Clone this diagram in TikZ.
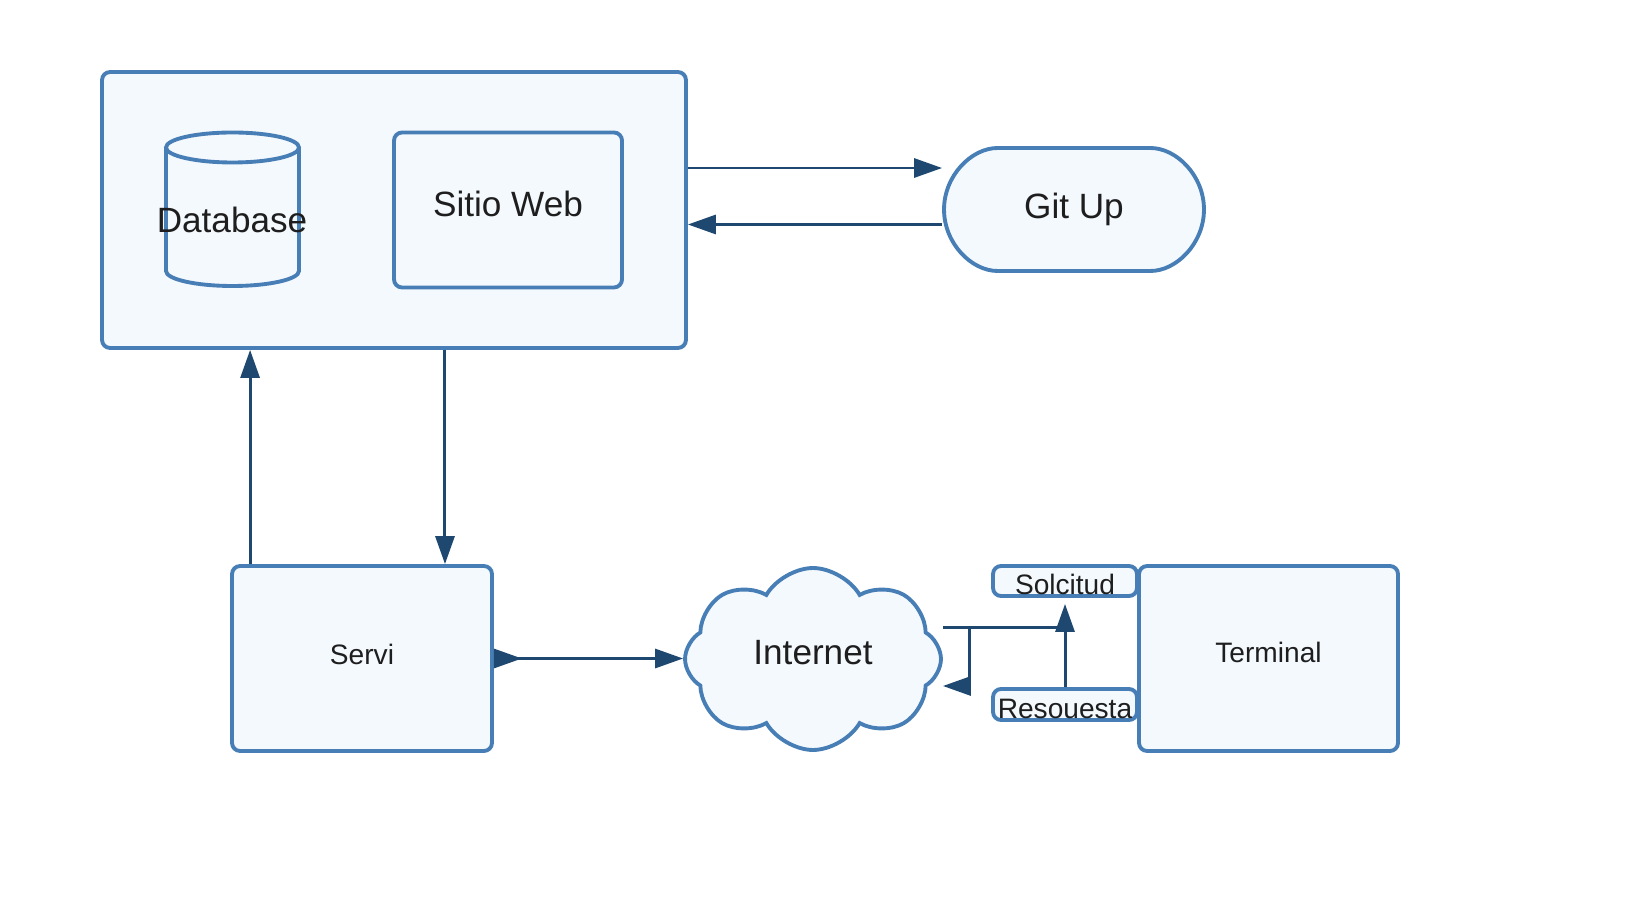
\documentclass[tikz,border=0pt]{standalone}
\usepackage{fontspec}
\setmainfont{Liberation Sans}
\usetikzlibrary{arrows.meta,shapes.misc,shapes.symbols}
\definecolor{bord}{RGB}{72,126,182}
\definecolor{boxfill}{RGB}{244,249,254}
\definecolor{arrcol}{RGB}{30,72,112}
\definecolor{txt}{RGB}{30,30,30}

\begin{document}
\begin{tikzpicture}[x=0.02cm, y=-0.02cm]
                \tikzstyle{box} = [draw=bord, fill=boxfill, line width=2.2pt, rounded corners=0.16cm, text=txt, inner sep=0pt]
                \tikzstyle{big} = [font=\fontsize{20}{24}\selectfont]
                \tikzstyle{small} = [font=\fontsize{16}{19}\selectfont]
                \tikzstyle{arr} = [-{Triangle[length=0.56cm,width=0.38cm]}, line width=1.7pt, draw=arrcol]
                \fill[white] (0,0) rectangle (1649,901);
                \useasboundingbox (0,0) rectangle (1649,901);
                % upper block
                \node[box, minimum width=11.68cm, minimum height=5.52cm] (host) at (394,210) {};
                \filldraw[draw=bord, fill=boxfill, line width=2.2pt] (166,147.5) -- (166,271)
                    arc[start angle=180, end angle=360, x radius=1.33cm, y radius=0.3cm] -- (299,147.5);
                \draw[draw=bord, line width=2.2pt] (232.5,147.5) ellipse [x radius=1.33cm, y radius=0.3cm];
                \node[big, text=txt] (db) at (232,220) {Database};
                \node[box, big, text depth=0.25cm, minimum width=4.56cm, minimum height=3.1cm] (web) at (508,210) {Sitio Web};
                \node[box, big, rounded rectangle, minimum width=5.2cm, minimum height=2.46cm] (gitup) at (1074,209.5) {Git Up};
                % lower row
                \node[box, small, text depth=0.17cm, minimum width=5.2cm, minimum height=3.7cm] (servi) at (362,658.5) {Servi};
                \node[box, big, text depth=0.25cm, cloud, cloud puffs=8, cloud puff arc=120, aspect=1.4, rounded corners=0pt,
                      minimum width=5.12cm, minimum height=3.64cm] (net) at (813,659) {Internet};
                \node[box, small, text depth=0.25cm, minimum width=5.18cm, minimum height=3.7cm] (term) at (1268.5,658.5) {Terminal};
                \node[box, small, text height=0.56cm, text depth=0pt, minimum width=2.88cm, minimum height=0.6cm] (solc) at (1065,581) {Solcitud};
                \node[box, small, text height=0.56cm, text depth=0pt, minimum width=2.88cm, minimum height=0.62cm] (resp) at (1065,704.5) {Resouesta};
                % connectors
                \coordinate (gA) at ([yshift=0.84cm]host.east);
                \coordinate (gB) at ([yshift=-0.3cm]gitup.west);
                \draw[arr] (gA) -- (gA -| gitup.west);
                \draw[arr] (gB) -- (gB -| host.east);
                \coordinate (upA) at ([xshift=0.4cm]servi.north west);
                \coordinate (dnA) at ([xshift=1.66cm]servi.north);
                \draw[arr] (upA) -- (upA |- host.south);
                \draw[arr] (dnA |- host.south) -- (dnA);
                \draw[arr, {Triangle[reversed,length=0.56cm,width=0.38cm]}-{Triangle[length=0.56cm,width=0.38cm]}] (servi.east) -- (servi.east -| net.west);
                \coordinate (nA) at ([yshift=0.64cm]net.east);
                \coordinate (nB) at ([yshift=-0.54cm]net.east);
                \coordinate (nJ) at (969,627);
                \draw[arr, shorten >=0.12cm] (nA) -| (solc.south);
                \draw[arr] (resp.north) |- (nJ) |- (nB);
            \end{tikzpicture}
\end{document}
